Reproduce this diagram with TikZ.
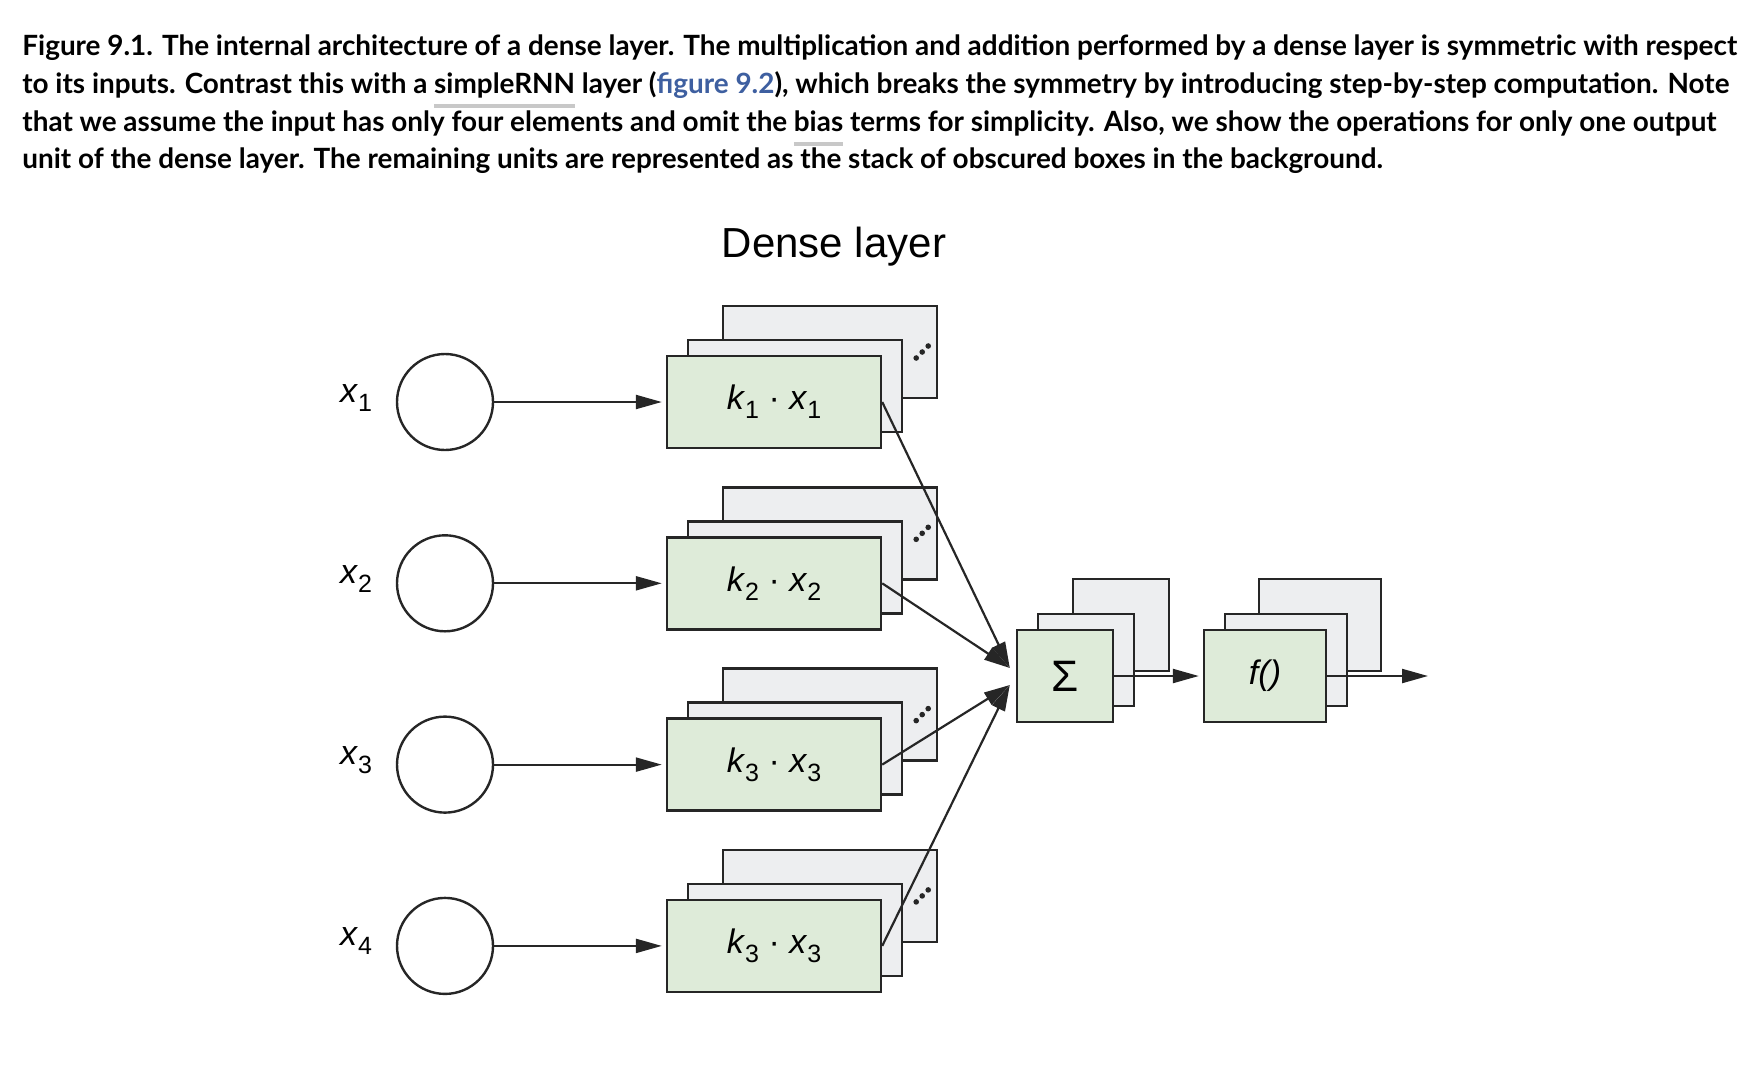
\documentclass[tikz,border=0pt]{standalone}
\usepackage{fontspec}
\setmainfont{Liberation Sans}
\newfontfamily\capfont{Lato}
\usetikzlibrary{arrows.meta,positioning}

\definecolor{boxgreen}{RGB}{222,235,217}
\definecolor{boxgray}{RGB}{237,238,240}
\definecolor{linedark}{RGB}{38,38,38}
\definecolor{linkblue}{RGB}{62,95,160}
\definecolor{ulgray}{RGB}{200,200,200}

% palabra subrayada en gris
\newsavebox\glossbox
\newcommand\gloss[1]{\sbox\glossbox{#1}\rlap{\color{ulgray}\rule[-7.5pt]{\wd\glossbox}{2pt}}\usebox\glossbox}
% subindice y etiqueta k_i . x_i
\newcommand\idx[1]{\raisebox{-4.5pt}{\fontsize{12.5}{12.5}\selectfont #1}}
\newcommand\prodlbl[1]{\textit{k}\idx{#1} · \textit{x}\idx{#1}}

\begin{document}
\begin{tikzpicture}[x=0.5pt, y=-0.5pt, >={Triangle[length=13pt,width=7pt]}]
    \useasboundingbox (0,0) rectangle (1764,1082);

    % Estilos
    \tikzset{
      frontbox/.style={draw=linedark, line width=1.2pt, fill=boxgreen,
        minimum width=107pt, minimum height=46pt, inner sep=0pt,
        font=\fontsize{17}{20}\selectfont},
      stackbox/.style={draw=linedark, line width=1.2pt, fill=boxgray,
        minimum width=107pt, minimum height=46pt, inner sep=0pt},
      sumw/.style={minimum width=48pt},
      actw/.style={minimum width=61pt},
      neuron/.style={circle, draw=linedark, line width=1.2pt,
        minimum size=48pt, inner sep=0pt},
      link/.style={->, line width=1.1pt, draw=linedark, shorten >=2pt},
      captext/.style={anchor=base west, inner sep=0pt,
        font=\capfont\bfseries\fontsize{13.95}{17}\selectfont}
    }

    % Pie de figura
    \node[captext] (cap1) at (22,55) {Figure 9.1. The internal architecture of a dense layer. The multiplication and addition performed by a dense layer is symmetric with respect};
    \node[captext] (cap2) at (22,93) {to its inputs. Contrast this with a \gloss{simpleRNN} layer (\textcolor{linkblue}{figure 9.2}), which breaks the symmetry by introducing step-by-step computation. Note};
    \node[captext] (cap3) at (22,131) {that we assume the input has only four elements and omit the \gloss{bias} terms for simplicity. Also, we show the operations for only one output};
    \node[captext] (cap4) at (22,168) {unit of the dense layer. The remaining units are represented as the stack of obscured boxes in the background.};

    % Titulo
    \node[anchor=base, font=\fontsize{21}{25}\selectfont] (title) at (834,257) {Dense layer};

    % Entradas y productos
    \foreach \i/\n in {1/1,2/2,3/3,4/3}{
      \pgfmathsetmacro\ry{402+(\i-1)*181.3}
      \node[anchor=base, font=\fontsize{17}{20}\selectfont] (lbl\i) at (356,\ry) {\textit{x}\idx{\i}};
      \node[neuron] (in\i) at (445,\ry) {};
      \coordinate (c\i) at (774,\ry);
      \node[stackbox] (bk\i) at ([shift={(56,-50)}]c\i) {};
      \node[stackbox] (md\i) at ([shift={(21,-16)}]c\i) {};
      \node[frontbox] (mul\i) at (c\i) {\prodlbl{\n}};
      \foreach \d in {-1,0,1}
        \fill[linedark] ([shift={(-16+\d*6,-\d*6)}]bk\i.east) circle (1.4pt);
      \draw[link] (in\i) -- (mul\i);
    }

    % Suma
    \coordinate (cs) at (1065,676);
    \node[stackbox, sumw] (sbk) at ([shift={(56,-51)}]cs) {};
    \node[stackbox, sumw] (smd) at ([shift={(21,-16)}]cs) {};
    \node[frontbox, sumw, font=\fontsize{22}{24}\selectfont] (sum) at (cs) {Σ};

    % Activacion
    \coordinate (cf) at (1265,676);
    \node[stackbox, actw] (abk) at ([shift={(55,-51)}]cf) {};
    \node[stackbox, actw] (amd) at ([shift={(21,-16)}]cf) {};
    \node[frontbox, actw] (act) at (cf) {\textit{f()}};

    % Conexiones
    \coordinate (inA) at ([xshift=-3pt, yshift=4pt]sum.west);
    \coordinate (inB) at ([xshift=-3pt, yshift=-4.5pt]sum.west);
    \coordinate (out) at (1428,676);
    \draw[link, shorten >=0pt] (mul1.east) -- (inA);
    \draw[link, shorten >=0pt] (mul2.east) -- (inA);
    \draw[link, shorten >=0pt] (mul3.east) -- (inB);
    \draw[link, shorten >=0pt] (mul4.east) -- (inB);
    \draw[link] (sum) -- (act);
    \draw[link, shorten >=0pt] (act) -- (out);
  \end{tikzpicture}
\end{document}
